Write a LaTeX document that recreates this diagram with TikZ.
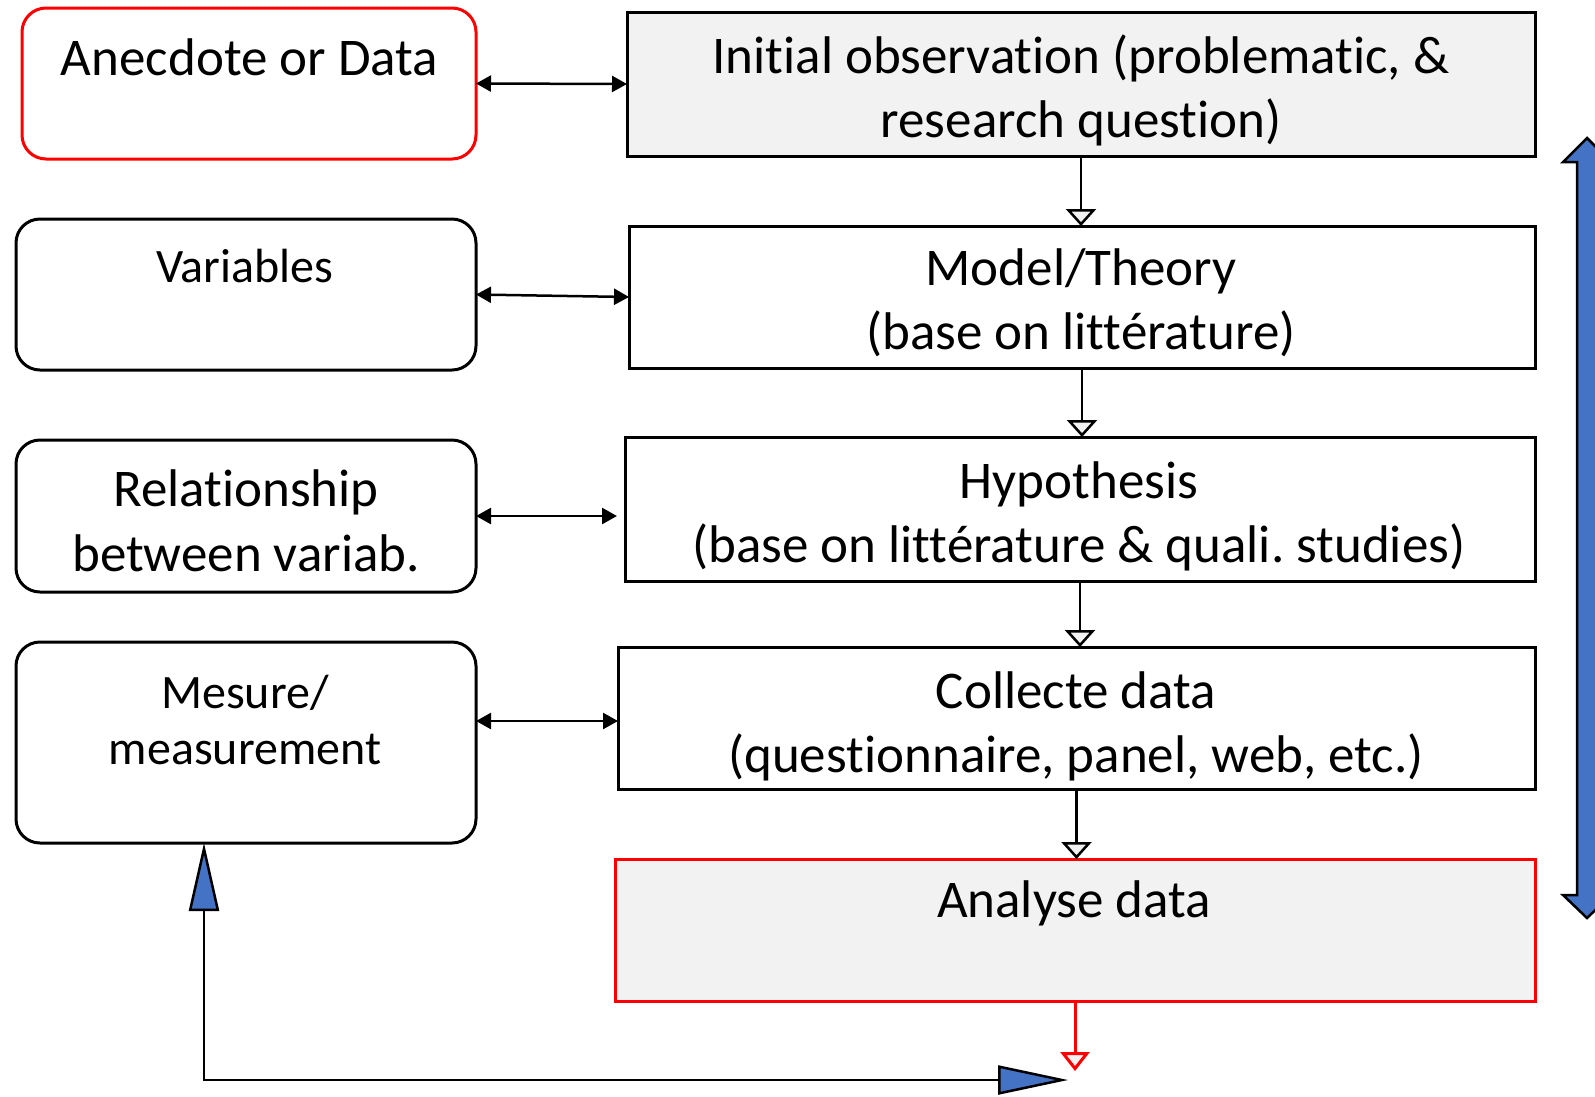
\documentclass[tikz,border=0pt]{standalone}
\usepackage{fontspec}
\setmainfont{Carlito}[Ligatures={NoCommon}]
\usetikzlibrary{arrows.meta}
\definecolor{boxgray}{HTML}{F2F2F2}
\definecolor{pptblue}{HTML}{4472C4}
\definecolor{pptred}{HTML}{FF0000}
\frenchspacing
\begin{document}
\begin{tikzpicture}[x=1pt,y=-1pt,
  box/.style={draw=black, line width=3pt, inner sep=0pt, outer sep=0pt},
  rbox/.style={box, rounded corners=24pt},
  txt/.style={align=center, anchor=base, inner sep=0pt, outer sep=0pt},
  fbig/.style={font=\fontsize{53}{64}\selectfont},
  fmid/.style={font=\fontsize{48}{56}\selectfont},
  dbl/.style={line width=2.5pt, {Triangle[length=15pt,width=16pt]}-{Triangle[length=15pt,width=16pt]}},
  down/.style={line width=2.5pt, -{Triangle[length=17pt,width=30pt,fill=boxgray]}},
]
\useasboundingbox (0,0) rectangle (1595,1096);
\clip (0,0) rectangle (1595,1096);
% boxes
\node[rbox, draw=pptred, minimum width=454pt, minimum height=151pt] (anec) at (249,83.5) {};
\node[box, fill=boxgray, minimum width=908pt, minimum height=144pt] (init) at (1081,84) {};
\node[rbox, minimum width=460pt, minimum height=151pt] (var) at (246,294.5) {};
\node[box, minimum width=906pt, minimum height=142pt] (model) at (1082,297) {};
\node[rbox, minimum width=460pt, minimum height=152pt] (rel) at (246,516) {};
\node[box, minimum width=910pt, minimum height=144pt] (hyp) at (1080,509) {};
\node[rbox, minimum width=460pt, minimum height=201pt] (mes) at (246,742.5) {};
\node[box, minimum width=917pt, minimum height=142pt] (coll) at (1076.5,718) {};
\node[box, draw=pptred, fill=boxgray, minimum width=920pt, minimum height=142pt] (anal) at (1075,930) {};
% texts (base anchor = baseline of the last line)
\node[txt, fbig] (tanec) at (249.5,75) {Anecdote or Data};
\node[txt, fbig] (tinit) at (1081,137) {Initial observation (problematic, \&\\research question)};
\node[txt, fmid] (tvar) at (245,282) {Variables};
\node[txt, fbig] (tmodel) at (1081,349) {Model/Theory\\(base on littérature)};
\node[txt, font=\fontsize{53}{65}\selectfont] (trel) at (246,571) {Relationship\\between variab.};
\node[txt, fbig] (thyp) at (1079,562) {Hypothesis\\(base on littérature \& quali. studies)};
\node[txt, fmid] (tmes) at (245,764) {Mesure/\\measurement};
\node[txt, fbig] (tcoll) at (1076,772) {Collecte data\\(questionnaire, panel, web, etc.)};
\node[txt, fbig] (tanal) at (1074,917) {Analyse data};
% double arrows
\draw[dbl] (anec.east) -- (init.west);
\draw[dbl] (var.east) -- (model.west);
\draw[dbl] (rel.east) -- ([xshift=-8pt]rel.east -| hyp.west);
\draw[dbl] ([yshift=-3pt]mes.east |- coll.west) -- ([yshift=-3pt]coll.west);
% down arrows
\draw[down] (init.south) -- (init.south |- model.north);
\draw[down] (model.south) -- (model.south |- hyp.north);
\draw[down] (hyp.south) -- (hyp.south |- coll.north);
\draw[down] (coll.south) -- (coll.south |- anal.north);
\coordinate (redend) at ([yshift=-70pt]anal.south);
\draw[line width=3pt, draw=pptred, -{Triangle[length=19pt,width=29pt,fill=boxgray]}] (anal.south) -- (redend);
% feedback connector
\coordinate (fbtop) at ([xshift=-42pt]mes.south);
\coordinate (fbcorner) at (204,1080);
\coordinate (fbend) at (1068,1080);
\draw[line width=2.5pt, {Triangle[length=68pt,width=30pt,fill=pptblue]}-{Triangle[length=70pt,width=29pt,fill=pptblue]}] (fbtop) -- (fbcorner) -- (fbend);
% right blue double arrow
\draw[fill=pptblue, line width=2.5pt, line join=miter] (1587,138) -- (1611,162) -- (1597,162) -- (1597,895) -- (1611,895) -- (1587,918) -- (1563,895) -- (1577,895) -- (1577,162) -- (1563,162) -- cycle;
\end{tikzpicture}
\end{document}
